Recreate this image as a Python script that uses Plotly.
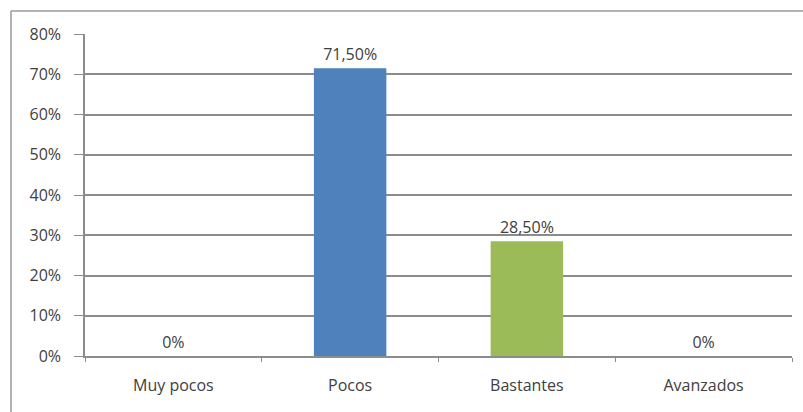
import plotly.graph_objects as go

categories = ["Muy pocos", "Pocos", "Bastantes", "Avanzados"]
values = [0.0, 0.715, 0.285, 0.0]
bar_colors = ["#4F81BD", "#4F81BD", "#9BBB59", "#4F81BD"]
y_ticks = [0, 0.1, 0.2, 0.3, 0.4, 0.5, 0.6, 0.7, 0.8]


def fmt(v):
    if v == 0:
        return "0%"
    return f"{v*100:.2f}".replace(".", ",") + "%"


labels = [fmt(v) for v in values]

W, H = 803, 412
ml, mr, mt, mb = 85, 11, 34, 56
pw, ph = W - ml - mr, H - mt - mb

def px_x(p):
    return (p - ml) / pw

def px_y(p):
    return (H - mb - p) / ph

fig = go.Figure()
fig.add_trace(go.Bar(
    x=categories, y=values,
    marker=dict(color=bar_colors, line=dict(width=0)),
    width=0.41,
    text=labels, textposition="outside", cliponaxis=False,
    textfont=dict(family="Open Sans", size=16, color="#404040"),
))

grid = "#8C8C8C"
fig.update_layout(
    width=W, height=H,
    margin=dict(l=ml, r=mr, t=mt, b=mb),
    paper_bgcolor="white", plot_bgcolor="white",
    separators=",.",
    showlegend=False,
    font=dict(family="Open Sans", size=16, color="#404040"),
    xaxis=dict(
        tickson="boundaries", ticks="outside", ticklen=4, tickcolor=grid,
        showline=True, linecolor=grid, linewidth=1.5, showgrid=False,
        tickfont=dict(size=16, color="#404040"),
        ticklabelstandoff=14,
    ),
    yaxis=dict(
        range=[0, 0.8], tickvals=y_ticks, tickformat=".0%",
        ticks="outside", ticklen=9, tickcolor=grid,
        showgrid=True, gridcolor=grid, gridwidth=1.5,
        showline=True, linecolor=grid, linewidth=1.5, zeroline=False,
        tickfont=dict(size=16, color="#404040"),
        ticklabelstandoff=10,
    ),
    shapes=[
        dict(type="line", xref="paper", yref="paper",
             x0=px_x(11), x1=px_x(810), y0=px_y(11), y1=px_y(11),
             line=dict(color="#9A9A9A", width=1.5)),
        dict(type="line", xref="paper", yref="paper",
             x0=px_x(11), x1=px_x(11), y0=px_y(11), y1=px_y(420),
             line=dict(color="#9A9A9A", width=1.5)),
    ],
)

fig.write_html("out.html")
